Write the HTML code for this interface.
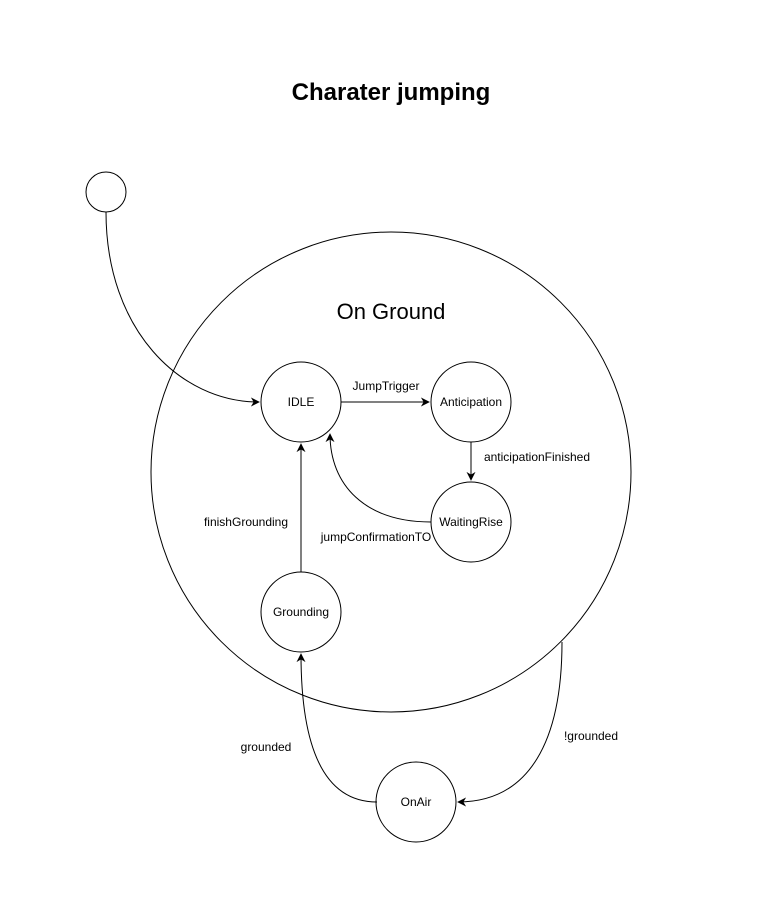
<!DOCTYPE html>
<html><head><meta charset="utf-8"><style>
html,body{margin:0;padding:0;background:#fff;}
svg{display:block;}
text{font-family:"Liberation Sans",Arial,sans-serif;fill:#000;}
</style></head><body>
<svg width="776" height="899" viewBox="0 0 776 899" xmlns="http://www.w3.org/2000/svg">
<defs>
<marker id="a" viewBox="0 0 10 10" refX="9" refY="5" markerWidth="9" markerHeight="9" orient="auto" markerUnits="userSpaceOnUse">
<path d="M0,0 L10,5 L0,10 L3,5 z" fill="#000"/>
</marker>
</defs>
<text x="391" y="100" font-size="24" font-weight="bold" text-anchor="middle">Charater jumping</text>
<circle cx="106" cy="192" r="20" fill="#fff" stroke="#000" stroke-width="1"/>
<circle cx="391" cy="472" r="240" fill="none" stroke="#000" stroke-width="1"/>
<text x="391" y="319" font-size="22" text-anchor="middle">On Ground</text>
<g fill="#fff" stroke="#000" stroke-width="1">
<circle cx="301" cy="402" r="40"/>
<circle cx="471" cy="402" r="40"/>
<circle cx="471" cy="522" r="40"/>
<circle cx="301" cy="612" r="40"/>
<circle cx="416" cy="802" r="40"/>
</g>
<g font-size="12" text-anchor="middle">
<text x="301" y="406">IDLE</text>
<text x="471" y="406">Anticipation</text>
<text x="471" y="526">WaitingRise</text>
<text x="301" y="616">Grounding</text>
<text x="416" y="806">OnAir</text>
</g>
<g fill="none" stroke="#000" stroke-width="1">
<path d="M106,212 C106,330 180,402 259,402" marker-end="url(#a)"/>
<path d="M341,402 L429,402" marker-end="url(#a)"/>
<path d="M471,442 L471,480" marker-end="url(#a)"/>
<path d="M431,522 C365,522 330,485 330,434" marker-end="url(#a)"/>
<path d="M301,572 L301,444" marker-end="url(#a)"/>
<path d="M377,802 C320,802 301,740 301,654" marker-end="url(#a)"/>
<path d="M562,642 C562,740 530,802 458,802" marker-end="url(#a)"/>
</g>
<g font-size="12" text-anchor="middle">
<text x="386" y="390">JumpTrigger</text>
<text x="537" y="461">anticipationFinished</text>
<text x="376" y="541">jumpConfirmationTO</text>
<text x="246" y="526">finishGrounding</text>
<text x="266" y="751">grounded</text>
<text x="591" y="740">!grounded</text>
</g>
</svg>
</body></html>
